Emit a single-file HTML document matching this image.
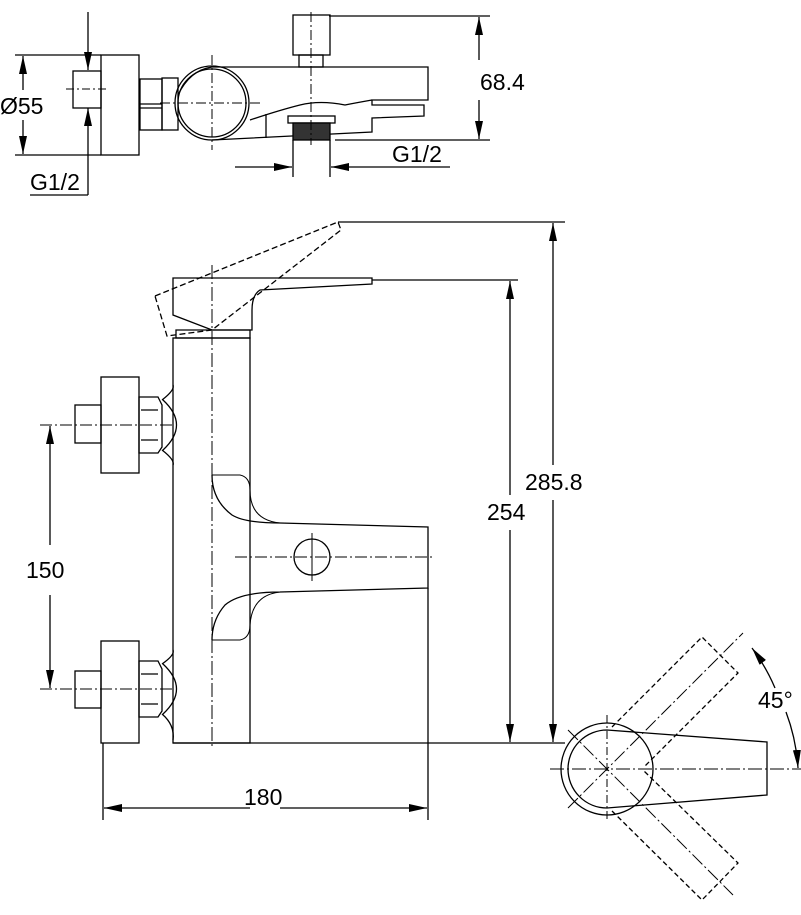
<!DOCTYPE html>
<html><head><meta charset="utf-8"><style>
html,body{margin:0;padding:0;background:#fff;}
svg{display:block;}
text{font-family:"Liberation Sans",sans-serif;font-size:23px;fill:#000;}
</style></head><body>
<svg width="801" height="915" viewBox="0 0 801 915" xmlns="http://www.w3.org/2000/svg">
<defs>
<marker id="a" viewBox="0 0 10 10" refX="10" refY="5" markerWidth="18" markerHeight="8" orient="auto" markerUnits="userSpaceOnUse" preserveAspectRatio="none"><path d="M0,0L10,5L0,10z" fill="#000"/></marker>
</defs>
<g fill="none" stroke="#000" stroke-width="1.3">
<!-- ===== TOP VIEW ===== -->
<rect x="101" y="55" width="38" height="100"/>
<line x1="15" y1="55" x2="101" y2="55"/><line x1="15" y1="155" x2="101" y2="155"/>
<rect x="73" y="71" width="28" height="37"/>
<line x1="66" y1="89" x2="106" y2="89" stroke-dasharray="8,3,2,3" stroke-width="1"/>
<line x1="23" y1="90" x2="23" y2="56" marker-end="url(#a)"/>
<line x1="23" y1="120" x2="23" y2="154" marker-end="url(#a)"/>
<line x1="88" y1="12" x2="88" y2="70" marker-end="url(#a)"/>
<line x1="88" y1="195" x2="88" y2="108" marker-end="url(#a)"/>
<line x1="30" y1="195" x2="88" y2="195"/>
<rect x="140" y="79" width="22" height="51"/>
<line x1="140" y1="104" x2="162" y2="104"/><line x1="140" y1="108" x2="162" y2="108"/>
<rect x="162" y="78" width="16" height="52"/>
<circle cx="212" cy="103" r="37"/>
<circle cx="212" cy="103" r="34"/>
<path d="M178,95 Q190,70 212,67 L428,67 L428,100 L372,100 L372,105 L424,105 L424,116 L372,118 L372,132 L212,140"/>
<path d="M250,120 Q280,110 300,105 Q320,100 345,105 Q355,103 372,100"/>
<line x1="266" y1="114" x2="266" y2="138"/>
<rect x="293" y="15" width="37" height="40"/>
<rect x="299" y="55" width="24" height="12"/>
<rect x="288" y="116" width="47" height="7"/>
<rect x="293" y="123" width="37" height="17" fill="#333"/>
<line x1="311" y1="12" x2="311" y2="145" stroke-dasharray="10,3,2,3" stroke-width="1"/>
<line x1="212" y1="55" x2="212" y2="150" stroke-dasharray="10,3,2,3" stroke-width="1"/>
<line x1="160" y1="103" x2="260" y2="103" stroke-dasharray="10,3,2,3" stroke-width="1"/>
<line x1="329" y1="16" x2="490" y2="16"/>
<line x1="335" y1="140" x2="490" y2="140"/>
<line x1="479" y1="60" x2="479" y2="17" marker-end="url(#a)"/>
<line x1="479" y1="100" x2="479" y2="139" marker-end="url(#a)"/>
<line x1="293" y1="140" x2="293" y2="177"/><line x1="330" y1="140" x2="330" y2="177"/>
<line x1="235" y1="167" x2="292" y2="167" marker-end="url(#a)"/>
<line x1="450" y1="167" x2="331" y2="167" marker-end="url(#a)"/>

<!-- ===== MAIN VIEW ===== -->
<rect x="173" y="338" width="77" height="405"/>
<path d="M176,330 L250,330 L250,338 L176,338z"/>
<path d="M173,278 L372,278 L372,284 L260,290 Q252,295 252,310 L252,330 L212,330 L173,315 Z"/>
<path d="M155,296 L338,222 L341,230 L212,330 L167,336 Z" stroke-dasharray="6,3"/>
<line x1="212" y1="265" x2="212" y2="748" stroke-dasharray="14,3,2,3" stroke-width="1"/>
<line x1="338" y1="222" x2="565" y2="222"/>
<line x1="372" y1="280" x2="518" y2="280"/>
<!-- inlets -->
<rect x="101" y="377" width="38" height="96"/>
<rect x="75" y="405" width="26" height="38"/>
<path d="M139,397 L158,397 L162,405 L162,447 L158,453 L139,453 Z"/>
<line x1="141" y1="410" x2="158" y2="410"/><line x1="141" y1="440" x2="158" y2="440"/>
<path d="M162,400 Q175,390 173,385 M162,450 Q175,460 173,465 M163,400 Q190,425 163,450"/>
<rect x="101" y="641" width="38" height="102"/>
<rect x="75" y="671" width="26" height="37"/>
<path d="M139,661 L158,661 L162,669 L162,711 L158,717 L139,717 Z"/>
<line x1="141" y1="674" x2="158" y2="674"/><line x1="141" y1="704" x2="158" y2="704"/>
<path d="M162,664 Q175,655 173,650 M162,714 Q175,725 173,740 M163,664 Q190,689 163,714"/>
<line x1="40" y1="425" x2="175" y2="425" stroke-dasharray="12,3,2,3" stroke-width="1"/>
<line x1="40" y1="689" x2="175" y2="689" stroke-dasharray="12,3,2,3" stroke-width="1"/>
<line x1="50" y1="545" x2="50" y2="426" marker-end="url(#a)"/>
<line x1="50" y1="595" x2="50" y2="688" marker-end="url(#a)"/>
<!-- spout -->
<path d="M212,475 Q212,500 232,515 Q245,523 280,523 L428,527 L428,588 L280,592 Q240,592 225,605 Q212,620 212,640"/>
<path d="M212,475 L240,475 Q250,477 250,490 Q250,520 280,523 M212,640 L240,640 Q250,638 250,625 Q252,595 280,592" stroke-width="1"/>
<circle cx="312" cy="557" r="18"/>
<line x1="235" y1="557" x2="435" y2="557" stroke-dasharray="12,3,2,3" stroke-width="1"/>
<line x1="312" y1="533" x2="312" y2="581" stroke-width="1"/>
<line x1="428" y1="588" x2="428" y2="820"/>
<line x1="103" y1="743" x2="103" y2="820"/>
<line x1="173" y1="743" x2="565" y2="743"/>
<line x1="250" y1="808" x2="104" y2="808" marker-end="url(#a)"/>
<line x1="280" y1="808" x2="427" y2="808" marker-end="url(#a)"/>
<line x1="510" y1="495" x2="510" y2="281" marker-end="url(#a)"/>
<line x1="510" y1="530" x2="510" y2="742" marker-end="url(#a)"/>
<line x1="553" y1="465" x2="553" y2="223" marker-end="url(#a)"/>
<line x1="553" y1="500" x2="553" y2="742" marker-end="url(#a)"/>

<!-- ===== HANDLE TOP VIEW ===== -->
<circle cx="607" cy="769" r="46"/>
<path d="M607,730 L767,742 L767,795 L607,808 A39,39 0 0 1 607,730 Z"/>
<line x1="550" y1="769" x2="801" y2="769" stroke-dasharray="14,3,2,3" stroke-width="1"/>
<line x1="607" y1="715" x2="607" y2="822" stroke-dasharray="8,3,2,3" stroke-width="1"/>
<line x1="568" y1="808" x2="743" y2="633" stroke-dasharray="14,3,2,3" stroke-width="1"/>
<line x1="568" y1="730" x2="733" y2="895" stroke-dasharray="14,3,2,3" stroke-width="1"/>
<path d="M612,727 L702,637 L738,673 L644,767" stroke-dasharray="5,3"/>
<path d="M612,811 L702,900 L738,863 L644,771" stroke-dasharray="5,3"/>
<path d="M775,688 A192,192 0 0 0 752,648" marker-end="url(#a)"/>
<path d="M786,712 A192,192 0 0 1 798,768" marker-end="url(#a)"/>
</g>
<text x="480" y="90">68.4</text>
<text x="0" y="114">Ø55</text>
<text x="30" y="190">G1/2</text>
<text x="392" y="162">G1/2</text>
<text x="26" y="578">150</text>
<text x="487" y="520">254</text>
<text x="525" y="490">285.8</text>
<text x="244" y="805">180</text>
<text x="758" y="708">45°</text>
</svg>
</body></html>
